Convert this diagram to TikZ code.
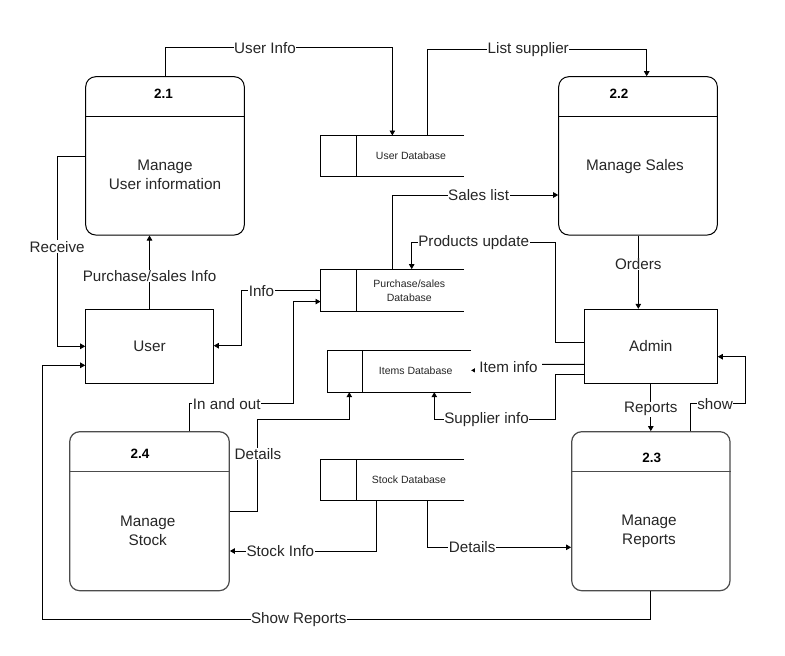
\documentclass[tikz,border=0pt]{standalone}
\usepackage{fontspec}
\setmainfont{Liberation Sans}
\usetikzlibrary{arrows.meta}
\begin{document}
\begin{tikzpicture}[x=1pt,y=-1pt,
  every node/.style={text=black!85},
  proc/.style={draw, line width=1pt, rounded corners=10pt, inner sep=0pt},
  procg/.style={proc, draw=black!70, line width=1.2pt},
  ent/.style={draw, line width=1pt, inner sep=0pt},
  store/.style={inner sep=0pt, minimum width=143.3pt},
  big/.style={font=\fontsize{15.3}{18.8}\selectfont, align=center},
  ttl/.style={font=\fontsize{13.5}{15}\selectfont\bfseries, text=black},
  dbt/.style={font=\fontsize{10.5}{14}\selectfont, align=center},
  lbl/.style={font=\fontsize{15.2}{17}\selectfont, fill=white, inner sep=0.5pt},
  arr/.style={line width=0.9pt, -{Triangle[length=5pt,width=5.5pt]}},
  ln/.style={line width=0.9pt}
]
\useasboundingbox[fill=white] (0,0) rectangle (785,656);

% processes
\node[proc, minimum width=158.6pt, minimum height=158.3pt] (p21) at (165,155.85) {};
\node[proc, minimum width=158.6pt, minimum height=158.3pt] (p22) at (638,155.85) {};
\node[procg, minimum width=159.6pt, minimum height=159pt] (p24) at (149.5,511.2) {};
\node[procg, minimum width=158.3pt, minimum height=159pt] (p23) at (650.85,511.2) {};
\draw[line width=1pt] (p21.west |- 0,116) -- (p21.east |- 0,116);
\draw[line width=1pt] (p22.west |- 0,116) -- (p22.east |- 0,116);
\draw[line width=1.2pt, black!70] (p24.west |- 0,471.7) -- (p24.east |- 0,471.7);
\draw[line width=1.2pt, black!70] (p23.west |- 0,471.7) -- (p23.east |- 0,471.7);
\node[ttl] (t21) at (163.5,94) {2.1};
\node[ttl] (t22) at (619,94) {2.2};
\node[ttl] (t24) at (140,454) {2.4};
\node[ttl] (t23) at (651.7,458) {2.3};
\node[big] (m21) at (165,175) {Manage\\User information};
\node[big] (m22) at (635,167) {Manage Sales};
\node[big] (m24) at (147.7,531) {Manage\\Stock};
\node[big] (m23) at (649,531.5) {Manage\\Reports};

% entities
\node[ent, minimum width=127.6pt, minimum height=74pt, big] (user) at (149.5,346.3) {User};
\node[ent, minimum width=133pt, minimum height=73.7pt, big] (admin) at (650.8,346.2) {Admin};

% data stores
\node[store, minimum height=40.3pt] (udb) at (392.35,155.85) {};
\node[store, minimum height=41.7pt] (pdb) at (392.35,290.15) {};
\node[store, minimum width=143.7pt, minimum height=41.3pt] (idb) at (399.15,371.35) {};
\node[store, minimum height=41pt] (sdb) at (392.35,479.8) {};
\foreach \s in {udb,pdb,idb,sdb}{
  \draw[line width=1pt] (\s.north east) -- (\s.north west) -- (\s.south west) -- (\s.south east);
  \draw[line width=1pt] ([xshift=35.8pt]\s.north west) -- ([xshift=35.8pt]\s.south west);
}
\node[dbt] (udbt) at (411,156) {User Database};
\node[dbt] (pdbt) at (409.3,291) {Purchase/sales\\Database};
\node[dbt] (idbt) at (415.7,371) {Items Database};
\node[dbt] (sdbt) at (409,480) {Stock Database};

% connectors
\draw[arr] (p21.north) -- ++(0,-28.4) -| node[lbl,pos=0.22]{User Info} (udb.north);
\draw[arr] ([xshift=35pt]udb.north) -- ++(0,-86.4) -| node[lbl,pos=0.23]{List supplier} ([xshift=8.7pt]p22.north);
\draw[arr] (pdb.north) |- node[lbl,pos=0.76]{Sales list} ([yshift=-39.15pt]p22.west);
\draw[arr] ([yshift=3.9pt]admin.west) -- ++(-28,0) -- ++(0,-100) -| node[lbl,pos=0.285]{Products update} ([xshift=19.35pt]pdb.north);
\draw[arr] ([xshift=0.3pt]p22.south) -- node[lbl,pos=0.39]{Orders} ([xshift=-12.5pt]admin.north);
\draw[arr] ([yshift=-18.1pt]admin.west) -- ++(-75.3,0) -- node[lbl,inner xsep=4pt]{Item info} ++(0,6) -- ([yshift=1pt]idb.east);
\draw[arr] ([yshift=-28.1pt]admin.west) -- ++(-28,0) -- ++(0,45) -| node[lbl,pos=0.285]{Supplier info} ([xshift=35.15pt]idb.south);
\draw[arr] (admin.south) -- node[lbl,pos=0.54]{Reports} (admin.south |- p23.north);
\draw[arr] ([xshift=39.85pt]p23.north) -- ++(0,-27.4) -- node[lbl,pos=0.45]{show} ++(54.3,0) |- ([yshift=-10.5pt]admin.east);
\draw[arr] (p23.south) -- ++(0,28.6) -- node[lbl,pos=0.579]{Show Reports} ++(-608.15,0) |- ([yshift=-19pt]user.west);
\draw[arr] ([xshift=-15.65pt]sdb.south) |- node[lbl,pos=0.828]{Stock Info} ([yshift=-39.8pt]p24.east);
\draw[arr] ([xshift=34.95pt]sdb.south) |- node[lbl,pos=0.656]{Details} ([yshift=-36.1pt]p23.west);
\draw[arr] ([yshift=0.2pt]p24.east) -- ++(28,0) -- node[lbl,pos=0.62]{Details} ++(0,-91.7) -| ([xshift=-49.85pt]idb.south);
\draw[arr] ([xshift=39.8pt]p24.north) -- ++(0,-27.4) -- node[lbl,pos=0.36]{In and out} ++(104,0) |- ([yshift=-11.45pt]pdb.west);
\draw[arr] ([yshift=-0.55pt]pdb.west) -- node[lbl,pos=0.747]{Info} ++(-79,0) |- ([yshift=0.6pt]user.east);
\draw[arr] (user.north) -- node[lbl,pos=0.45]{Purchase/sales Info} (user.north |- p21.south);
\draw[arr] ([yshift=-0.85pt]p21.west) -- ++(-28,0) |- node[lbl,pos=0.237]{Receive} (user.west);
\end{tikzpicture}
\end{document}
